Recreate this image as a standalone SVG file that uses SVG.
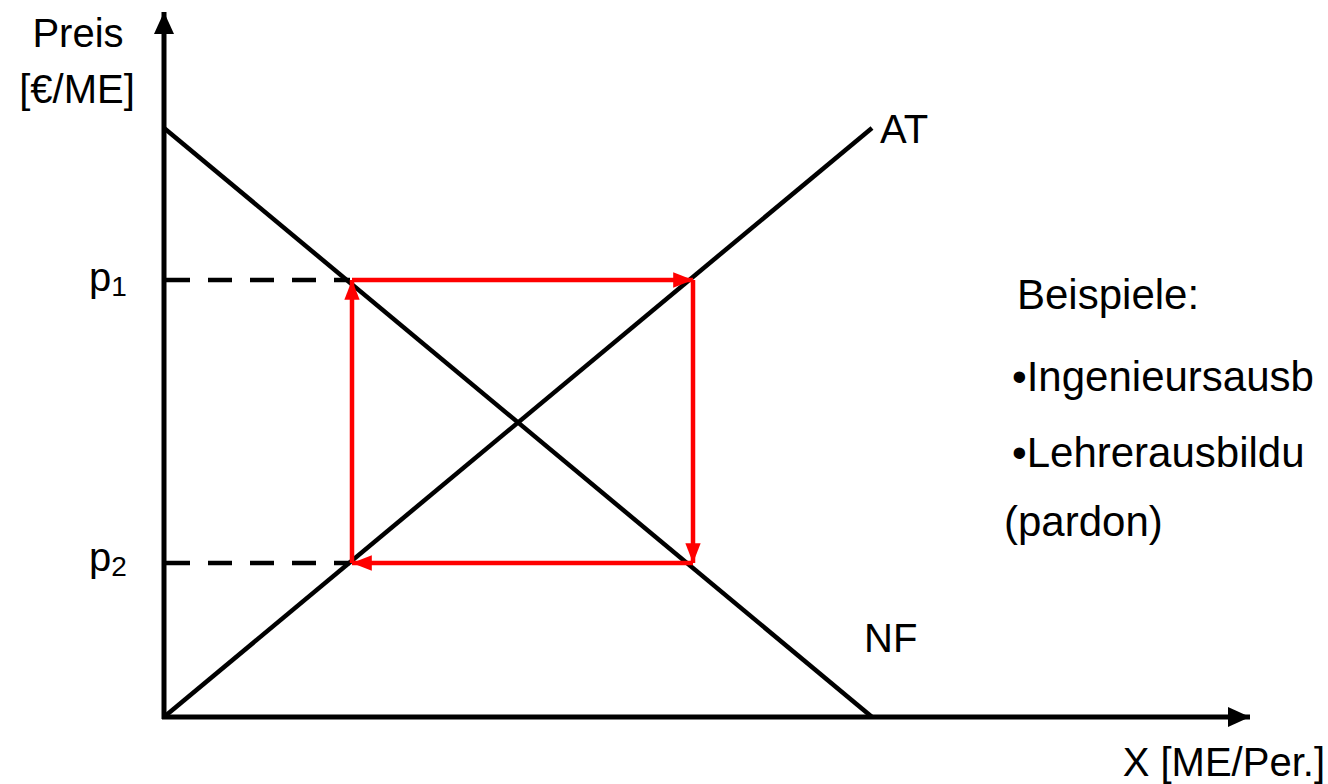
<svg xmlns="http://www.w3.org/2000/svg" width="1328" height="784" viewBox="0 0 1328 784">
<style>
text{font-family:"Liberation Sans",Arial,sans-serif;font-size:40px;fill:#000}
.ex{font-size:42px}
.ax{stroke:#000;stroke-width:5;fill:none}
.crv{stroke:#000;stroke-width:4.5;fill:none}
.dash{stroke:#000;stroke-width:4.5;stroke-dasharray:24 18;fill:none}
.red{stroke:#ff0000;stroke-width:4.5;fill:none}
</style>
<defs>
<marker id="ah" markerWidth="5" markerHeight="4" refX="4.4" refY="2" orient="auto" markerUnits="strokeWidth">
<path d="M0,0 L4.4,2 L0,4 Z" fill="#000"/>
</marker>
<marker id="rh" markerWidth="5" markerHeight="4" refX="4.4" refY="2" orient="auto" markerUnits="strokeWidth">
<path d="M0,0.3 L4.4,2 L0,3.7 Z" fill="#ff0000"/>
</marker>
</defs>
<g id="axes">
<line class="ax" x1="164" y1="719" x2="164" y2="12" marker-end="url(#ah)"/>
<line class="ax" x1="162" y1="717" x2="1250" y2="717" marker-end="url(#ah)"/>
</g>
<g id="curves">
<line id="NF-line" class="crv" x1="164" y1="128" x2="872" y2="717"/>
<line id="AT-line" class="crv" x1="164" y1="717" x2="872" y2="128"/>
</g>
<g id="guides">
<line class="dash" x1="166" y1="280" x2="350" y2="280"/>
<line class="dash" x1="166" y1="563" x2="350" y2="563"/>
</g>
<g id="connectors">
<line class="red" x1="352" y1="280" x2="693" y2="280" marker-end="url(#rh)"/>
<line class="red" x1="693" y1="280" x2="693" y2="563" marker-end="url(#rh)"/>
<line class="red" x1="693" y1="563" x2="352" y2="563" marker-end="url(#rh)"/>
<line class="red" x1="352" y1="563" x2="352" y2="280" marker-end="url(#rh)"/>
</g>
<g id="labels">
<text x="78" y="47" text-anchor="middle">Preis</text>
<text x="77" y="103" text-anchor="middle">[€/ME]</text>
<text x="880" y="143">AT</text>
<text x="864" y="652">NF</text>
<text x="1325" y="776" text-anchor="end">X [ME/Per.]</text>
<text x="89" y="291">p<tspan font-size="28" dy="5">1</tspan></text>
<text x="89" y="571">p<tspan font-size="28" dy="5">2</tspan></text>
</g>
<g id="examples">
<text class="ex" x="1017" y="309">Beispiele:</text>
<text class="ex" x="1012" y="391">•Ingenieursausb</text>
<text class="ex" x="1012" y="467">•Lehrerausbildu</text>
<text class="ex" x="1004" y="536">(pardon)</text>
</g>
</svg>
